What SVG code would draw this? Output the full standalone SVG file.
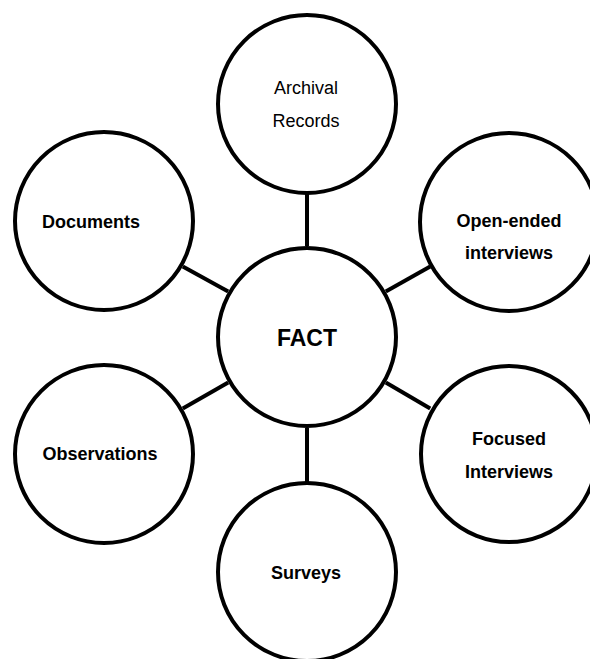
<svg xmlns="http://www.w3.org/2000/svg" width="590" height="659" viewBox="0 0 590 659">
<style>
.node{fill:#fff;stroke:#000;stroke-width:4}
.conn{stroke:#000;stroke-width:4;fill:none}
.t{font-family:"Liberation Sans",Arial,sans-serif;font-size:18px;fill:#000;text-anchor:middle}
.b{font-weight:bold}
</style>
<rect width="590" height="659" fill="#fff"/>
<g id="connectors">
<line class="conn" x1="307" y1="246" x2="307" y2="194"/>
<line class="conn" x1="228.2" y1="291.5" x2="182.8" y2="266.5"/>
<line class="conn" x1="385.8" y1="291.5" x2="430.2" y2="266.5"/>
<line class="conn" x1="228.2" y1="382.5" x2="182.8" y2="408.5"/>
<line class="conn" x1="385.8" y1="382.5" x2="430.2" y2="408.5"/>
<line class="conn" x1="307" y1="428" x2="307" y2="482"/>
</g>
<g id="fact">
<circle class="node" cx="307" cy="337" r="89"/>
<text class="t b" x="307" y="346" style="font-size:23px">FACT</text>
</g>
<g id="archival">
<circle class="node" cx="307" cy="104" r="89"/>
<text class="t" x="306" y="94">Archival</text>
<text class="t" x="306" y="127">Records</text>
</g>
<g id="documents">
<circle class="node" cx="104" cy="221" r="89"/>
<text class="t b" x="91" y="228">Documents</text>
</g>
<g id="open-ended">
<circle class="node" cx="509" cy="222" r="89"/>
<text class="t b" x="509" y="227">Open-ended</text>
<text class="t b" x="509" y="259">interviews</text>
</g>
<g id="observations">
<circle class="node" cx="104" cy="454" r="89"/>
<text class="t b" x="100" y="460">Observations</text>
</g>
<g id="focused">
<circle class="node" cx="509" cy="454" r="88"/>
<text class="t b" x="509" y="445">Focused</text>
<text class="t b" x="509" y="478">Interviews</text>
</g>
<g id="surveys">
<circle class="node" cx="307" cy="572" r="89"/>
<text class="t b" x="306" y="579">Surveys</text>
</g>
</svg>
